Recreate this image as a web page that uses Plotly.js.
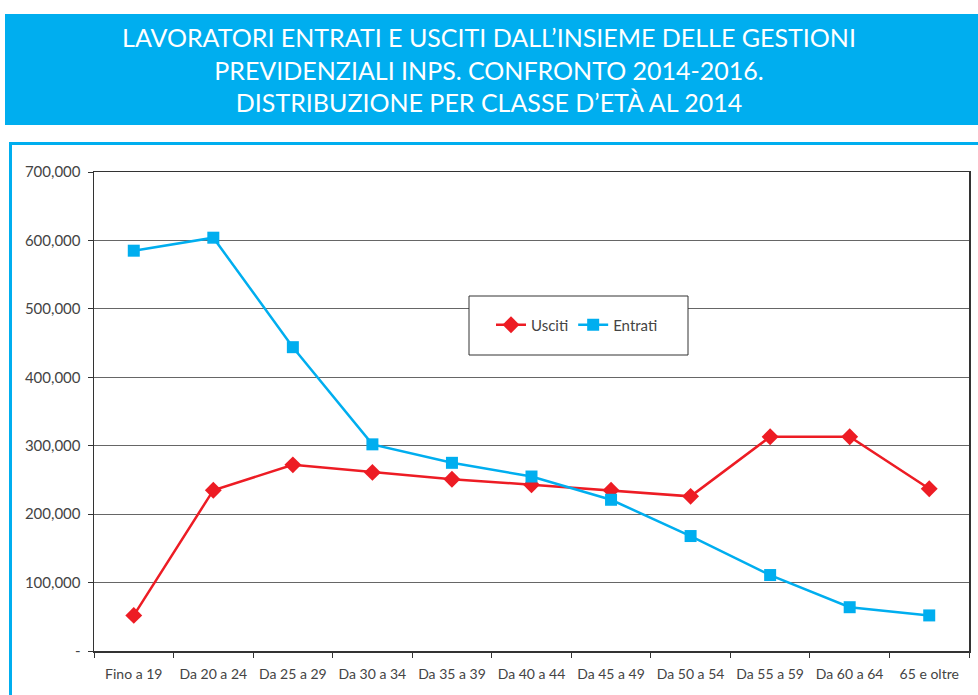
<!DOCTYPE html>
<html><head><meta charset="utf-8">
<script src="https://cdn.plot.ly/plotly-3.0.1.min.js"></script>
<style>html,body{margin:0;padding:0;background:#fff}#chart{width:978px;height:695px}</style>
</head><body><div id="chart"></div>
<script>
const categories = ['Fino a 19','Da 20 a 24','Da 25 a 29','Da 30 a 34','Da 35 a 39','Da 40 a 44','Da 45 a 49','Da 50 a 54','Da 55 a 59','Da 60 a 64','65 e oltre'];
const usciti  = [52000, 235000, 272000, 261000, 251000, 243000, 235000, 226000, 313000, 313000, 237000];
const entrati = [585000, 604000, 444000, 302000, 275000, 255000, 221000, 168000, 111000, 64000, 52000];
const yTickVals = [0, 100000, 200000, 300000, 400000, 500000, 600000, 700000];
const yTickText = ['-', '100,000', '200,000', '300,000', '400,000', '500,000', '600,000', '700,000'];
const titleLines = ['LAVORATORI ENTRATI E USCITI DALL\u2019INSIEME DELLE GESTIONI', 'PREVIDENZIALI INPS. CONFRONTO 2014-2016.', 'DISTRIBUZIONE PER CLASSE D\u2019ET\u00C0 AL 2014'];

const RED = '#ED1C24', BLUE = '#00AEEF';
const FONT = 'Lato, "Open Sans", sans-serif';

const traces = [
  {type:'scatter', mode:'lines+markers', name:'Usciti', x:categories, y:usciti,
   line:{color:RED, width:2.5}, marker:{symbol:'diamond', size:13, color:RED}},
  {type:'scatter', mode:'lines+markers', name:'Entrati', x:categories, y:entrati,
   line:{color:BLUE, width:2.5}, marker:{symbol:'square', size:12, color:BLUE}}
];

const W = 978, H = 695, L = 94, R = 9, T = 172, B = 44;
const pw = W - L - R, ph = H - T - B;
const px = v => (v - L) / pw;
const py = v => (H - B - v) / ph;

const layout = {
  width: W, height: H,
  margin: {l:L, r:R, t:T, b:B, pad:0},
  paper_bgcolor:'#fff', plot_bgcolor:'#fff',
  font:{family:FONT, color:'#444'},
  title:{text: titleLines.join('<br>'), font:{family:FONT, size:25, color:'#fff'},
         x:0.5, xref:'container', xanchor:'center', y:1-47/H, yref:'container', yanchor:'top'},
  showlegend:true,
  legend:{orientation:'h', x:px(577), xanchor:'center', y:py(325), yanchor:'middle',
          bgcolor:'rgba(0,0,0,0)', borderwidth:0, font:{family:FONT, size:15, color:'#444'}},
  xaxis:{type:'category', range:[-0.5, 10.5], showline:true, linecolor:'#333', linewidth:1.5, mirror:true,
         ticks:'outside', tickson:'boundaries', ticklen:5, tickcolor:'#333', showgrid:false,
         tickfont:{family:FONT, size:14, color:'#444'}, ticklabelstandoff:10, fixedrange:true},
  yaxis:{range:[0, 700000], tickvals:yTickVals, ticktext:yTickText, showgrid:true, gridcolor:'#666', gridwidth:1,
         showline:true, linecolor:'#333', linewidth:1.5, mirror:true, ticks:'outside', ticklen:5, tickcolor:'#333',
         zeroline:false, tickfont:{family:FONT, size:15, color:'#444'}, ticklabelstandoff:4, fixedrange:true},
  shapes:[
    {type:'rect', xref:'paper', yref:'paper', x0:px(5), x1:px(990), y0:py(125), y1:py(14),
     fillcolor:BLUE, line:{width:0}, layer:'below'},
    {type:'rect', xref:'paper', yref:'paper', x0:px(10.5), x1:px(1000), y0:py(720), y1:py(143.5),
     fillcolor:'rgba(0,0,0,0)', line:{color:BLUE, width:3}, layer:'below'},
    {type:'rect', xref:'paper', yref:'paper', x0:px(469), x1:px(688), y0:py(355), y1:py(296),
     fillcolor:'#fff', line:{color:'#333', width:1}, layer:'above'}
  ]
};

Plotly.newPlot('chart', traces, layout, {displayModeBar:false, staticPlot:true});
</script>
</body></html>
